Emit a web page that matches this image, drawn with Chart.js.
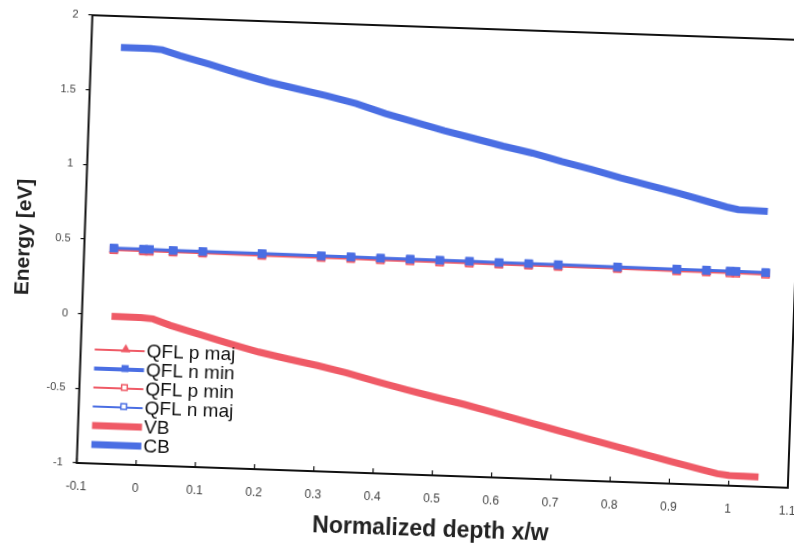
<!DOCTYPE html>
<html><head><meta charset="utf-8">
<script src="https://cdn.jsdelivr.net/npm/chart.js@4/dist/chart.umd.min.js"></script>
<style>
html,body{margin:0;padding:0;background:#fff;overflow:hidden;width:794px;height:550px;}
#wrap{position:absolute;left:-33px;top:-25px;width:860px;height:600px;transform:rotate(2deg);transform-origin:50% 50%;}
canvas{display:block;}
</style></head><body>
<div id="wrap"><canvas id="c" width="860" height="600"></canvas></div>
<script>
// ---- data ----
const xTicks = [-0.1, 0, 0.1, 0.2, 0.3, 0.4, 0.5, 0.6, 0.7, 0.8, 0.9, 1, 1.1];
const yTicks = [-1, -0.5, 0, 0.5, 1, 1.5, 2];

const bandX    = [-0.05, 0, 0.02, 0.05, 0.1, 0.15, 0.2, 0.25, 0.3, 0.35, 0.4, 0.45, 0.5, 0.55, 0.6, 0.65, 0.7, 0.75, 0.8, 0.85, 0.9, 0.95, 0.98, 1.0, 1.05];
const cbValues = [1.79, 1.79, 1.785, 1.75, 1.70, 1.645, 1.595, 1.555, 1.515, 1.47, 1.41, 1.36, 1.31, 1.265, 1.22, 1.18, 1.13, 1.085, 1.035, 0.99, 0.945, 0.895, 0.865, 0.85, 0.845];
const vbValues = [-0.01, -0.012, -0.018, -0.058, -0.112, -0.165, -0.215, -0.255, -0.292, -0.334, -0.385, -0.432, -0.476, -0.518, -0.565, -0.614, -0.662, -0.71, -0.757, -0.803, -0.85, -0.895, -0.922, -0.932, -0.935];

const qflX     = [-0.05, 0, 0.01, 0.05, 0.1, 0.2, 0.3, 0.35, 0.4, 0.45, 0.5, 0.55, 0.6, 0.65, 0.7, 0.8, 0.9, 0.95, 0.99, 1.0, 1.05];
const qflNMaj  = [0.447, 0.446, 0.446, 0.445, 0.445, 0.444, 0.443, 0.443, 0.442, 0.442, 0.441, 0.441, 0.440, 0.440, 0.439, 0.438, 0.437, 0.437, 0.436, 0.436, 0.435];
const qflNMin  = [0.447, 0.446, 0.446, 0.445, 0.445, 0.444, 0.443, 0.443, 0.442, 0.442, 0.441, 0.441, 0.440, 0.440, 0.439, 0.438, 0.437, 0.437, 0.436, 0.436, 0.435];
const qflPMaj  = [0.435, 0.434, 0.434, 0.433, 0.433, 0.432, 0.431, 0.431, 0.430, 0.430, 0.429, 0.429, 0.428, 0.428, 0.427, 0.426, 0.425, 0.425, 0.424, 0.424, 0.423];
const qflPMin  = [0.435, 0.434, 0.434, 0.433, 0.433, 0.432, 0.431, 0.431, 0.430, 0.430, 0.429, 0.429, 0.428, 0.428, 0.427, 0.426, 0.425, 0.425, 0.424, 0.424, 0.423];

const seriesNames = ['QFL p maj', 'QFL n min', 'QFL p min', 'QFL n maj', 'VB', 'CB'];
const xTitle = 'Normalized depth x/w';
const yTitle = 'Energy [eV]';

// ---- styling ----
const RED = '#ef5a66';
const BLUE = '#4a6ee3';
const pts = (xs, ys) => xs.map((x, i) => ({x: x, y: ys[i]}));

const datasets = [
  {label: seriesNames[0], data: pts(qflX, qflPMaj), borderColor: RED, backgroundColor: RED, borderWidth: 2,
   pointStyle: 'triangle', pointRadius: 5, pointBorderWidth: 1, order: 4, legendWidth: 2},
  {label: seriesNames[1], data: pts(qflX, qflNMin), borderColor: BLUE, backgroundColor: BLUE, borderWidth: 3,
   pointStyle: 'rect', pointRadius: 5, pointBorderWidth: 1, order: 2, legendWidth: 4},
  {label: seriesNames[2], data: pts(qflX, qflPMin), borderColor: RED, backgroundColor: 'rgba(255,255,255,0)', borderWidth: 2,
   pointStyle: 'rect', pointRadius: 5, pointBorderWidth: 1.5, order: 3, legendWidth: 2},
  {label: seriesNames[3], data: pts(qflX, qflNMaj), borderColor: BLUE, backgroundColor: 'rgba(255,255,255,0)', borderWidth: 2,
   pointStyle: 'rect', pointRadius: 5, pointBorderWidth: 1.5, order: 1, legendWidth: 2},
  {label: seriesNames[4], data: pts(bandX, vbValues), borderColor: RED, backgroundColor: RED, borderWidth: 7,
   pointRadius: 0, order: 6, legendWidth: 7},
  {label: seriesNames[5], data: pts(bandX, cbValues), borderColor: BLUE, backgroundColor: BLUE, borderWidth: 7,
   pointRadius: 0, order: 5, legendWidth: 7}
];

const FONT = "'Liberation Sans', Arial, sans-serif";

const frame = {
  id: 'frame',
  afterDatasetsDraw(chart) {
    const {ctx, chartArea: a, scales} = chart;
    ctx.save();
    ctx.strokeStyle = '#111';
    ctx.lineWidth = 2;
    ctx.strokeRect(a.left, a.top, a.right - a.left, a.bottom - a.top);
    ctx.lineWidth = 1.2;
    xTicks.forEach(v => {
      const px = scales.x.getPixelForValue(v);
      ctx.beginPath(); ctx.moveTo(px, a.bottom); ctx.lineTo(px, a.bottom - 5); ctx.stroke();
    });
    ctx.restore();
  }
};

function marker(ctx, style, x, y, r, fill, stroke, bw) {
  ctx.save();
  ctx.lineWidth = bw; ctx.strokeStyle = stroke; ctx.fillStyle = fill;
  ctx.beginPath();
  if (style === 'triangle') {
    ctx.moveTo(x, y - r); ctx.lineTo(x + r * 0.87, y + r * 0.5); ctx.lineTo(x - r * 0.87, y + r * 0.5); ctx.closePath();
  } else {
    const s = r * Math.SQRT1_2;
    ctx.rect(x - s, y - s, 2 * s, 2 * s);
  }
  ctx.fill(); ctx.stroke();
  ctx.restore();
}

const insideLegend = {
  id: 'insideLegend',
  afterDraw(chart) {
    const {ctx, chartArea: a} = chart;
    const x0 = a.left + 14, lineLen = 50, textX = a.left + 66;
    const rowH = 19, y0 = a.bottom - 114;
    ctx.save();
    chart.data.datasets.forEach((ds, i) => {
      const y = y0 + i * rowH;
      ctx.strokeStyle = ds.borderColor;
      ctx.lineWidth = ds.legendWidth;
      ctx.beginPath(); ctx.moveTo(x0, y); ctx.lineTo(x0 + lineLen, y); ctx.stroke();
      if (ds.pointRadius > 0) {
        marker(ctx, ds.pointStyle, x0 + lineLen / 2 + 6, y - 1, 4, ds.backgroundColor === RED || ds.backgroundColor === BLUE ? ds.backgroundColor : '#fff', ds.borderColor, 1.5);
      }
      ctx.fillStyle = '#111';
      ctx.font = '19px ' + FONT;
      ctx.textBaseline = 'middle';
      ctx.textAlign = 'left';
      ctx.fillText(ds.label, textX, y + 1);
    });
    ctx.restore();
  }
};

new Chart(document.getElementById('c'), {
  type: 'line',
  data: {datasets: datasets},
  options: {
    responsive: false,
    animation: false,
    devicePixelRatio: 1,
    layout: {padding: {left: 40, top: 51, right: 32, bottom: 31}},
    elements: {line: {tension: 0}},
    plugins: {legend: {display: false}, tooltip: {enabled: false}},
    scales: {
      x: {
        type: 'linear', min: -0.1, max: 1.1,
        afterBuildTicks: s => { s.ticks = xTicks.map(v => ({value: v})); },
        afterFit: s => { s.height = 70; },
        grid: {display: false, drawTicks: false},
        border: {display: false},
        ticks: {padding: 16, font: {size: 12, family: FONT}, color: '#444', maxRotation: 0, autoSkip: false,
                callback: v => String(Math.round(v * 10) / 10)},
        title: {display: true, text: xTitle, font: {size: 23, weight: 'bold', family: FONT}, color: '#222',
                padding: {top: 4, bottom: 2}}
      },
      y: {
        type: 'linear', min: -1, max: 2,
        afterBuildTicks: s => { s.ticks = yTicks.map(v => ({value: v})); },
        afterFit: s => { s.width = 76.5; },
        grid: {display: true, drawOnChartArea: false, drawTicks: true, tickLength: 4, color: '#111', lineWidth: 1.2},
        border: {display: false},
        ticks: {padding: 10, font: {size: 11, family: FONT}, color: '#444',
                callback: v => String(Math.round(v * 10) / 10)},
        title: {display: true, text: yTitle, font: {size: 21, weight: 'bold', family: FONT}, color: '#222',
                padding: {top: 4, bottom: 4}}
      }
    }
  },
  plugins: [frame, insideLegend]
});
</script>
</body></html>
